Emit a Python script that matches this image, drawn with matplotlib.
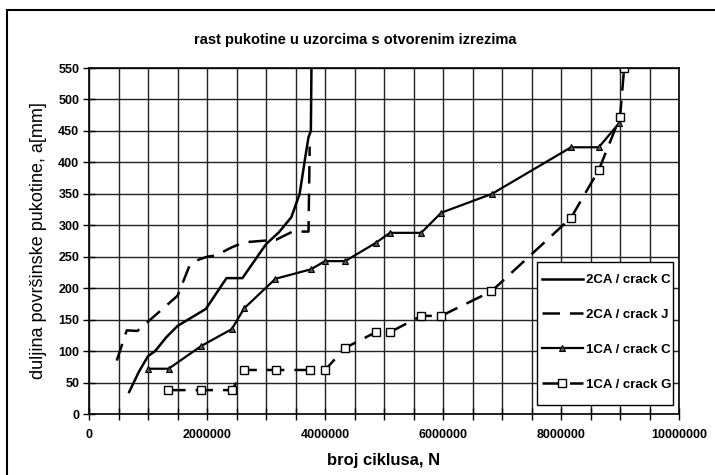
import matplotlib
matplotlib.use("Agg")
import matplotlib.pyplot as plt
from matplotlib.patches import Rectangle
import numpy as np

plt.rcParams['font.family'] = ['Liberation Sans', 'DejaVu Sans']

# 2CA / crack C
c2_x = [0.68e6, 0.85e6, 1.0e6, 1.12e6, 1.31e6, 1.5e6, 1.98e6, 2.33e6, 2.6e6,
        3.0e6, 3.22e6, 3.43e6, 3.57e6, 3.66e6, 3.72e6, 3.76e6, 3.77e6]
c2_y = [35, 68, 92, 100, 122, 140, 167, 216, 216, 270, 289, 313, 350, 405, 440, 450, 550]

# 2CA / crack J
j2_x = [0.47e6, 0.64e6, 0.82e6, 1.5e6, 1.7e6, 1.85e6, 2.0e6, 2.15e6, 2.42e6,
        2.63e6, 3.17e6, 3.45e6, 3.72e6, 3.74e6]
j2_y = [85, 133, 132, 188, 235, 245, 250, 252, 265, 273, 277, 290, 290, 425]

# 1CA / crack C
c1_x = [1.0e6, 1.35e6, 1.9e6, 2.42e6, 2.63e6, 3.16e6, 3.76e6, 4.0e6, 4.34e6,
        4.86e6, 5.1e6, 5.63e6, 5.97e6, 6.83e6, 8.17e6, 8.64e6, 8.99e6]
c1_y = [72, 72, 108, 135, 168, 215, 230, 243, 243, 272, 288, 288, 320, 350, 424, 424, 463]

# 1CA / crack G
g1_x = [1.34e6, 1.9e6, 2.42e6, 2.63e6, 3.17e6, 3.74e6, 4.0e6, 4.34e6, 4.86e6,
        5.1e6, 5.63e6, 5.97e6, 6.82e6, 8.17e6, 8.64e6, 9.0e6, 9.07e6]
g1_y = [38, 38, 38, 70, 70, 70, 70, 105, 130, 130, 156, 156, 195, 312, 388, 472, 550]

x_ticks = [0, 2000000, 4000000, 6000000, 8000000, 10000000]
x_tick_labels = ["0", "2000000", "4000000", "6000000", "8000000", "10000000"]
y_ticks = list(range(0, 551, 50))

fig = plt.figure(figsize=(7.15, 4.75), dpi=100)
ax = fig.add_axes([0.1245, 0.1284, 0.8252, 0.7284])

ax.plot(c2_x, c2_y, color='black', lw=1.8, label='2CA / crack C')
ax.plot(j2_x, j2_y, color='black', lw=1.8, dashes=(7, 4), label='2CA / crack J')
ax.plot(c1_x, c1_y, color='black', lw=1.6, marker='^', ms=5,
        mfc='#555555', mec='black', mew=0.8, label='1CA / crack C')
ax.plot(g1_x, g1_y, color='black', lw=1.8, dashes=(7, 4), marker='s', ms=6,
        mfc='white', mec='black', mew=1.0, label='1CA / crack G')

ax.set_xlim(0, 10000000)
ax.set_ylim(0, 550)
ax.set_xticks(x_ticks)
ax.set_xticklabels(x_tick_labels, fontsize=9, fontweight='bold')
ax.set_xticks(np.arange(0, 10000001, 500000), minor=True)
ax.set_yticks(y_ticks)
ax.set_yticklabels([str(v) for v in y_ticks], fontsize=9, fontweight='bold')
ax.tick_params(axis='both', which='both', direction='inout', length=8, width=1, color='black')
ax.tick_params(axis='x', which='major', pad=6.5)
ax.tick_params(axis='y', which='major', pad=3)

ax.grid(True, which='major', axis='y', color='#222222', lw=1.0)
ax.grid(True, which='minor', axis='x', color='#222222', lw=1.0)
ax.grid(True, which='major', axis='x', color='#222222', lw=1.0)
ax.set_axisbelow(True)
for sp in ax.spines.values():
    sp.set_linewidth(1.2)

ax.set_xlabel('broj ciklusa, N', fontsize=12, fontweight='bold', labelpad=9)
ax.set_ylabel('duljina površinske pukotine, a[mm]', fontsize=13, labelpad=8)
fig.text(0.497, 0.916, 'rast pukotine u uzorcima s otvorenim izrezima',
         ha='center', va='center', fontsize=10.5, fontweight='bold')

# legend box drawn separately so its padding can differ from the entry spacing
box = Rectangle((0.759, 0.0255), 0.2315, 0.413, transform=ax.transAxes,
                facecolor='white', edgecolor='black', lw=1.0, zorder=4.5)
ax.add_patch(box)
leg = ax.legend(loc='upper left', bbox_to_anchor=(0.767, 0.405), frameon=False,
                prop={'size': 9.5, 'weight': 'bold'}, labelspacing=1.72,
                handlelength=3.15, handletextpad=0.23, borderpad=0, borderaxespad=0)
leg.set_zorder(5)

fig.patches.append(Rectangle((0.0098, -0.05), 1.1, 1.0289, transform=fig.transFigure,
                             fill=False, edgecolor='black', lw=1.5))

fig.savefig('out.png', dpi=100)
